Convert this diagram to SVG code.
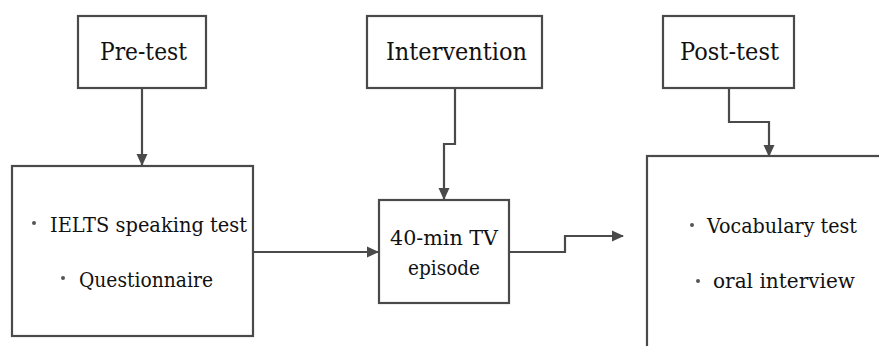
<svg xmlns="http://www.w3.org/2000/svg" width="879" height="346" viewBox="0 0 879 346">
<style>
.box{fill:#fff;stroke:#4a4a4a;stroke-width:2.2}
.con{fill:none;stroke:#4a4a4a;stroke-width:2.2}
.h{font-family:'DejaVu Serif',serif;font-size:24px;fill:#111;text-anchor:middle}
.t{font-family:'DejaVu Serif',serif;font-size:21px;fill:#111}
.tc{text-anchor:middle}
.dot{fill:#555}
</style>
<defs>
<marker id="ah" markerWidth="12" markerHeight="12" refX="11" refY="6" orient="auto" markerUnits="userSpaceOnUse">
<path d="M0,0.5 L12,6 L0,11.5 Z" fill="#4a4a4a"/>
</marker>
</defs>
<rect width="879" height="346" fill="#fff"/>
<g id="connectors">
<path class="con" d="M142,88 V165" marker-end="url(#ah)"/>
<path class="con" d="M455,88 V144 H444 V199" marker-end="url(#ah)"/>
<path class="con" d="M729,88 V122 H769 V156" marker-end="url(#ah)"/>
<path class="con" d="M253,252 H378" marker-end="url(#ah)"/>
<path class="con" d="M509,252 H565 V236 H623" marker-end="url(#ah)"/>
</g>
<g id="pretest">
<rect class="box" x="78" y="16" width="128" height="72"/>
<text class="h" x="143.5" y="60" textLength="87" lengthAdjust="spacingAndGlyphs">Pre-test</text>
</g>
<g id="intervention">
<rect class="box" x="367" y="16" width="175" height="72"/>
<text class="h" x="456.5" y="60" textLength="141" lengthAdjust="spacingAndGlyphs">Intervention</text>
</g>
<g id="posttest">
<rect class="box" x="663" y="16" width="131" height="72"/>
<text class="h" x="729.5" y="60" textLength="99" lengthAdjust="spacingAndGlyphs">Post-test</text>
</g>
<g id="pretest-items">
<rect class="box" x="12" y="166" width="241" height="170"/>
<circle class="dot" cx="34" cy="223" r="2"/>
<text class="t" x="50" y="232" textLength="197" lengthAdjust="spacingAndGlyphs">IELTS speaking test</text>
<circle class="dot" cx="63" cy="278" r="2"/>
<text class="t" x="79" y="287" textLength="134" lengthAdjust="spacingAndGlyphs">Questionnaire</text>
</g>
<g id="tv-episode">
<rect class="box" x="379" y="200" width="130" height="103"/>
<text class="t tc" x="444" y="245" textLength="108" lengthAdjust="spacingAndGlyphs">40-min TV</text>
<text class="t tc" x="444" y="275" textLength="72" lengthAdjust="spacingAndGlyphs">episode</text>
</g>
<g id="posttest-items">
<rect class="box" x="647" y="156" width="250" height="210"/>
<circle class="dot" cx="692" cy="225" r="2"/>
<text class="t" x="707" y="233" textLength="150" lengthAdjust="spacingAndGlyphs">Vocabulary test</text>
<circle class="dot" cx="698" cy="281" r="2"/>
<text class="t" x="713" y="288" textLength="142" lengthAdjust="spacingAndGlyphs">oral interview</text>
</g>
</svg>
